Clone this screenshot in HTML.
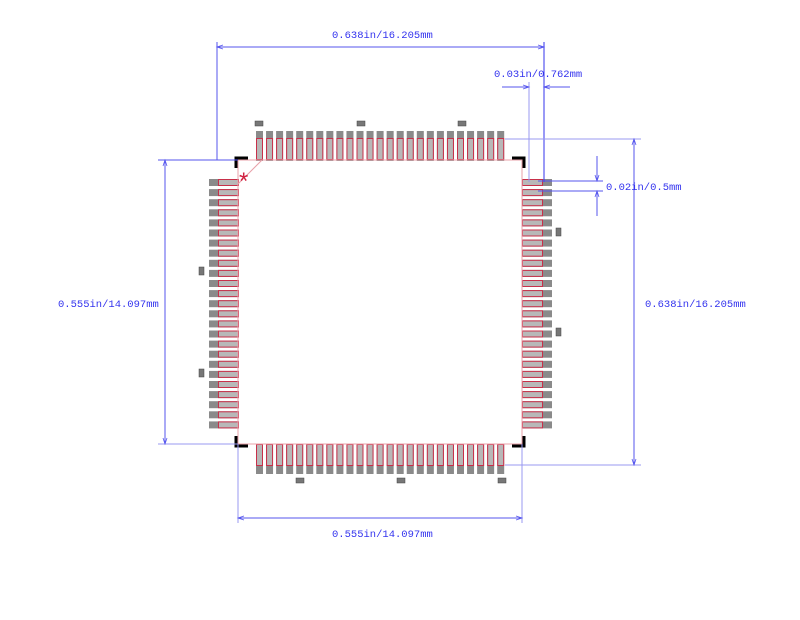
<!DOCTYPE html>
<html><head><meta charset="utf-8"><style>
html,body{margin:0;padding:0;background:#fff;width:800px;height:620px;overflow:hidden}
svg text{font-family:"Liberation Mono","Noto Sans CJK SC",monospace;font-size:10.5px;fill:#3333ee}
</style></head><body>
<svg id="s" width="800" height="620" viewBox="0 0 800 620" xmlns="http://www.w3.org/2000/svg">
<g id="pins"></g>
<rect x="238" y="160" width="284" height="284" fill="none" stroke="#e8a0a8" stroke-width="1"/>
<line x1="238" y1="184" x2="262" y2="160" stroke="#e8a0a8" stroke-width="1"/>
<text x="239" y="189" style="fill:#d02040;font-size:24px;font-family:'Liberation Sans',sans-serif">*</text>
<g stroke="#000" stroke-width="3" fill="none">
<polyline points="236,168 236,158 248,158"/>
<polyline points="512,158 524,158 524,168"/>
<polyline points="236,436 236,446 248,446"/>
<polyline points="512,446 524,446 524,436"/>
</g>
<g fill="#777" stroke="#444" stroke-width="0.5">
<rect x="255" y="121" width="8" height="5"/><rect x="357" y="121" width="8" height="5"/><rect x="458" y="121" width="8" height="5"/>
<rect x="296" y="478" width="8" height="5"/><rect x="397" y="478" width="8" height="5"/><rect x="498" y="478" width="8" height="5"/>
<rect x="199" y="267" width="5" height="8"/><rect x="199" y="369" width="5" height="8"/>
<rect x="556" y="228" width="5" height="8"/><rect x="556" y="328" width="5" height="8"/>
</g>
<g stroke="#5555ee" stroke-width="1" fill="none">
<line x1="217" y1="47" x2="544" y2="47"/>
<line x1="217" y1="42" x2="217" y2="160"/>
<line x1="544" y1="42" x2="544" y2="182" stroke="#3333ee"/>
<line x1="529" y1="82" x2="529" y2="182" stroke="#9999f0"/>
<line x1="502" y1="87" x2="529" y2="87"/>
<line x1="544" y1="87" x2="570" y2="87"/>
<line x1="538" y1="181" x2="603" y2="181"/>
<line x1="538" y1="191" x2="603" y2="191"/>
<line x1="597" y1="156" x2="597" y2="181"/>
<line x1="597" y1="191" x2="597" y2="216"/>
<line x1="505" y1="139" x2="641" y2="139" stroke="#9999f0"/>
<line x1="505" y1="465" x2="641" y2="465" stroke="#9999f0"/>
<line x1="634" y1="139" x2="634" y2="465"/>
<line x1="158" y1="160" x2="238" y2="160"/>
<line x1="158" y1="444" x2="238" y2="444" stroke="#9999f0"/>
<line x1="165" y1="160" x2="165" y2="444"/>
<line x1="238" y1="518" x2="522" y2="518"/>
<line x1="238" y1="444" x2="238" y2="523" stroke="#9999f0"/>
<line x1="522" y1="444" x2="522" y2="523" stroke="#9999f0"/>
</g>
<g fill="none" stroke="#5555ee" stroke-width="0.8">
<polyline points="223,45 217,47 223,49"/><polyline points="538,45 544,47 538,49"/>
<polyline points="523,85 529,87 523,89"/><polyline points="550,85 544,87 550,89"/>
<polyline points="595,175 597,181 599,175"/><polyline points="595,197 597,191 599,197"/>
<polyline points="632,145 634,139 636,145"/><polyline points="632,459 634,465 636,459"/>
<polyline points="163,166 165,160 167,166"/><polyline points="163,438 165,444 167,438"/>
<polyline points="244,516 238,518 244,520"/><polyline points="516,516 522,518 516,520"/>
</g>
<text x="332" y="38">0.638in/16.205mm</text>
<text x="494" y="77">0.03in/0.762mm</text>
<text x="606" y="190">0.02in/0.5mm</text>
<text x="645" y="307">0.638in/16.205mm</text>
<text x="58" y="307">0.555in/14.097mm</text>
<text x="332" y="537">0.555in/14.097mm</text>
</svg>
<script>
var g=document.getElementById('pins'),h='';
function r(x,y,w,hh,f,s){h+='<rect x="'+x+'" y="'+y+'" width="'+w+'" height="'+hh+'" fill="'+f+'"'+(s?' stroke="'+s+'" stroke-width="1"':'')+'/>';}
for(var i=0;i<25;i++){
 var x=256+i*10.05;
 r(x,131,7,30,'#8a8a8a');r(x+0.5,138.5,6,21,'#b8b8b8','#c8304a');
 r(x,444,7,30,'#8a8a8a');r(x+0.5,444.5,6,21,'#b8b8b8','#c8304a');
 var y=179+i*10.1;
 r(209,y,30,7,'#8a8a8a');r(218.5,y+0.5,20,6,'#b8b8b8','#c8304a');
 r(522,y,30,7,'#8a8a8a');r(522.5,y+0.5,20,6,'#b8b8b8','#c8304a');
}
g.innerHTML=h;
</script>
</body></html>
